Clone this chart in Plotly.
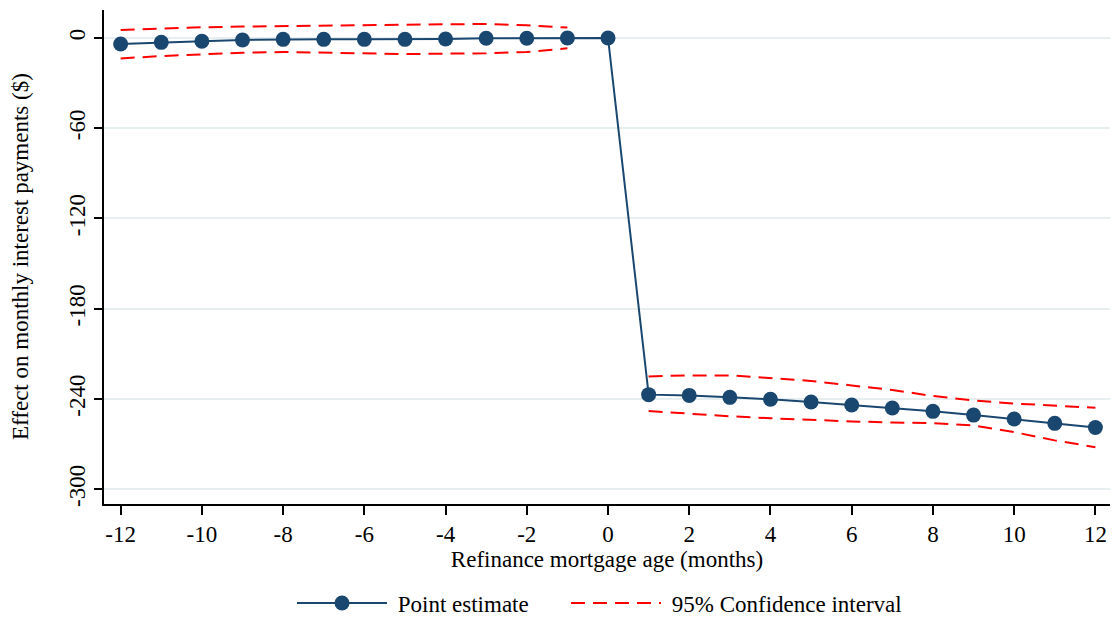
import plotly.graph_objects as go

months = list(range(-12, 13))
point_est = [-4.0, -2.9, -2.2, -1.3, -0.9, -0.9, -0.9, -0.9, -0.7, -0.2, -0.2, 0.0, 0.0,
             -237.1, -237.6, -238.9, -240.2, -242.0, -244.0, -246.0, -248.2, -250.7, -253.3, -256.2, -258.9]

ci_months_pre = list(range(-12, 0))
ci_upper_pre = [5.3, 6.4, 7.1, 7.6, 8.0, 8.4, 8.7, 9.1, 9.1, 9.3, 8.4, 6.9]
ci_lower_pre = [-13.6, -12.0, -10.9, -9.8, -9.3, -9.8, -10.2, -10.7, -10.4, -10.2, -9.3, -6.9]

ci_months_post = list(range(1, 13))
ci_upper_post = [-225.0, -224.3, -224.3, -226.0, -228.0, -231.0, -234.0, -238.0, -241.0, -243.0, -244.5, -245.8]
ci_lower_post = [-248.0, -249.8, -251.5, -252.8, -254.0, -254.9, -255.6, -256.0, -257.6, -262.0, -267.5, -272.0]

x_ticks = list(range(-12, 13, 2))
y_ticks = [0, -60, -120, -180, -240, -300]

NAVY = "#1a476f"
RED = "#ff0000"
FONT = "Liberation Serif"
FS = 23
W, H = 1112, 617

fig = go.Figure()

ci_style = dict(color=RED, width=2, dash="14px,8px")
fig.add_trace(go.Scatter(x=ci_months_pre, y=ci_upper_pre, mode="lines", line=ci_style,
                         name="\u00a095% Confidence interval", legendgroup="ci", showlegend=True,
                         legend="legend2"))
fig.add_trace(go.Scatter(x=ci_months_pre, y=ci_lower_pre, mode="lines", line=ci_style,
                         legendgroup="ci", showlegend=False))
fig.add_trace(go.Scatter(x=ci_months_post, y=ci_upper_post, mode="lines", line=ci_style,
                         legendgroup="ci", showlegend=False))
fig.add_trace(go.Scatter(x=ci_months_post, y=ci_lower_post, mode="lines", line=ci_style,
                         legendgroup="ci", showlegend=False))

fig.add_trace(go.Scatter(x=months, y=point_est, mode="lines+markers",
                         line=dict(color=NAVY, width=2),
                         marker=dict(color=NAVY, size=15),
                         name="\u00a0Point estimate", legend="legend"))

leg_common = dict(orientation="h", xref="container", yref="container",
                  xanchor="left", yanchor="middle", y=(H - 603) / H,
                  itemwidth=90, font=dict(family=FONT, size=FS), bgcolor="rgba(0,0,0,0)")

fig.update_layout(
    width=W, height=H,
    margin=dict(l=104, r=2, t=10, b=113, autoexpand=False),
    paper_bgcolor="white", plot_bgcolor="white",
    font=dict(family=FONT, size=FS, color="black"),
    showlegend=True,
    legend=dict(x=(298 - 6) / W, **leg_common),
    legend2=dict(x=(572 - 6) / W, **leg_common),
    annotations=[dict(text="Effect on monthly interest payments ($)", textangle=-90,
                      xref="paper", yref="paper", x=-84 / 1006, y=0.5,
                      xanchor="center", yanchor="middle", showarrow=False,
                      font=dict(family=FONT, size=FS))],
)

fig.update_xaxes(
    range=[-12.41, 12.36], tickmode="array", tickvals=x_ticks,
    ticktext=[str(v) for v in x_ticks],
    showgrid=False, zeroline=False, automargin=False,
    showline=True, linecolor="black", linewidth=1.5,
    ticks="outside", ticklen=9, tickwidth=1.5, tickcolor="black",
    tickfont=dict(family=FONT, size=FS),
    title=dict(text="Refinance mortgage age (months)", font=dict(family=FONT, size=FS), standoff=0),
)
fig.update_yaxes(
    range=[-309.8, 18.6], tickmode="array", tickvals=y_ticks,
    ticktext=[str(v) for v in y_ticks], tickangle=-90,
    showgrid=True, gridcolor="#e6eef0", gridwidth=1.5, zeroline=False, automargin=False,
    showline=True, linecolor="black", linewidth=1.5,
    ticks="outside", ticklen=8, tickwidth=1.5, tickcolor="black",
    tickfont=dict(family=FONT, size=FS),
)

fig.write_html("out.html", config={"displayModeBar": False},
               post_script="document.body.style.margin='0px';document.body.style.overflow='hidden';")
